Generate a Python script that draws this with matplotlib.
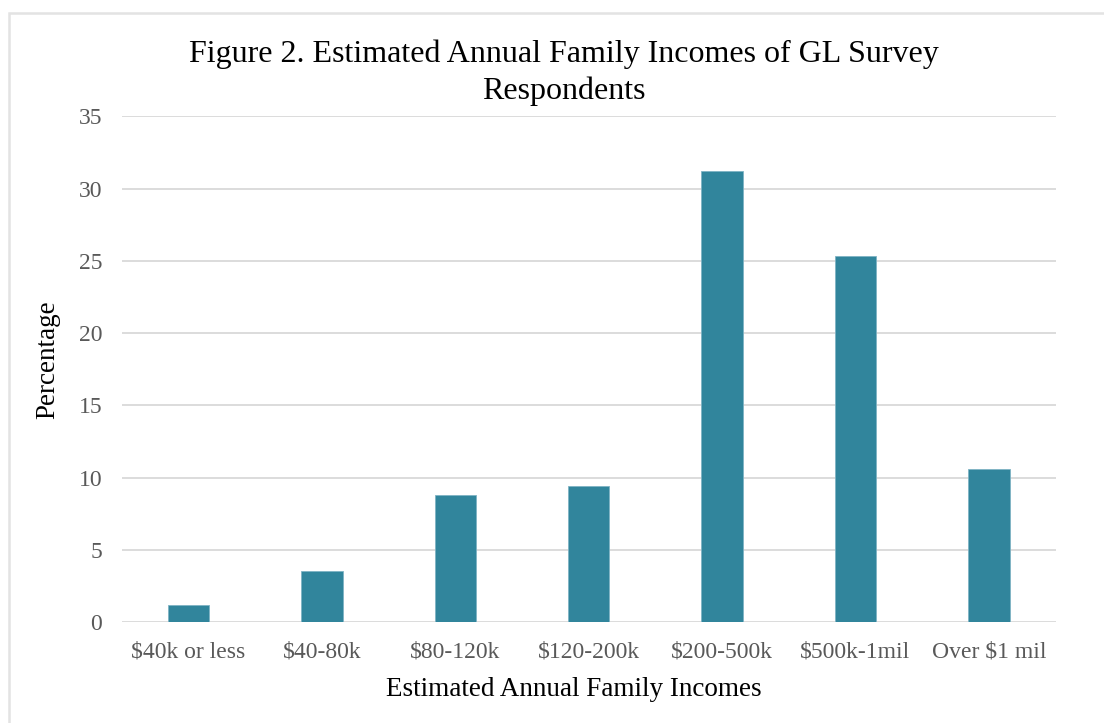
import matplotlib
matplotlib.use("Agg")
import matplotlib.pyplot as plt
from matplotlib.patches import Rectangle

categories = ["$40k or less", "$40-80k", "$80-120k", "$120-200k",
              "$200-500k", "$500k-1mil", "Over $1 mil"]
percentages = [1.2, 3.5, 8.8, 9.4, 31.2, 25.3, 10.6]
y_ticks = [0, 5, 10, 15, 20, 25, 30, 35]

W, H = 1104, 723
plt.rcParams["font.family"] = ["Liberation Serif", "DejaVu Serif"]

fig = plt.figure(figsize=(W / 100, H / 100), dpi=100)
fig.patch.set_facecolor("white")

# chart-area border (runs off the right and bottom edges)
fig.patches.append(Rectangle((9 / W, -0.05), 1.2, 1 - 13 / H + 0.05,
                             transform=fig.transFigure, fill=False,
                             edgecolor="#E3E3E3", linewidth=1.8, zorder=0))

left, right, top, bottom = 121.7, 1055.7, 116.3, 622.0
ax = fig.add_axes([left / W, 1 - bottom / H, (right - left) / W, (bottom - top) / H])

x = range(len(categories))
ax.bar(x, percentages, width=0.31, color="#31859C", edgecolor="#7FB3C4",
       linewidth=0.6, zorder=3)

ax.set_xlim(-0.5, len(categories) - 0.5)
ax.set_ylim(0, 35)
ax.set_yticks(y_ticks)
ax.set_xticks(list(x))
ax.set_xticklabels(categories)
ax.yaxis.grid(True, color="#D9D9D9", linewidth=1.3, zorder=0)
ax.set_axisbelow(True)
for s in ax.spines.values():
    s.set_visible(False)
ax.tick_params(axis="both", length=0, labelsize=17, labelcolor="#595959")
ax.tick_params(axis="x", pad=14)
ax.tick_params(axis="y", pad=14)

fig.text(574 / W, 1 - 690 / H, "Estimated Annual Family Incomes",
         ha="center", va="center", fontsize=19.5, color="black")
fig.text(48 / W, 1 - 360 / H, "Percentage", rotation=90,
         ha="center", va="center", fontsize=19.5, color="black")

fig.text(564 / W, 1 - 54 / H, "Figure 2. Estimated Annual Family Incomes of GL Survey",
         ha="center", va="center", fontsize=23, color="black")
fig.text(564 / W, 1 - 91 / H, "Respondents",
         ha="center", va="center", fontsize=23, color="black")

fig.savefig("out.png", dpi=100)
